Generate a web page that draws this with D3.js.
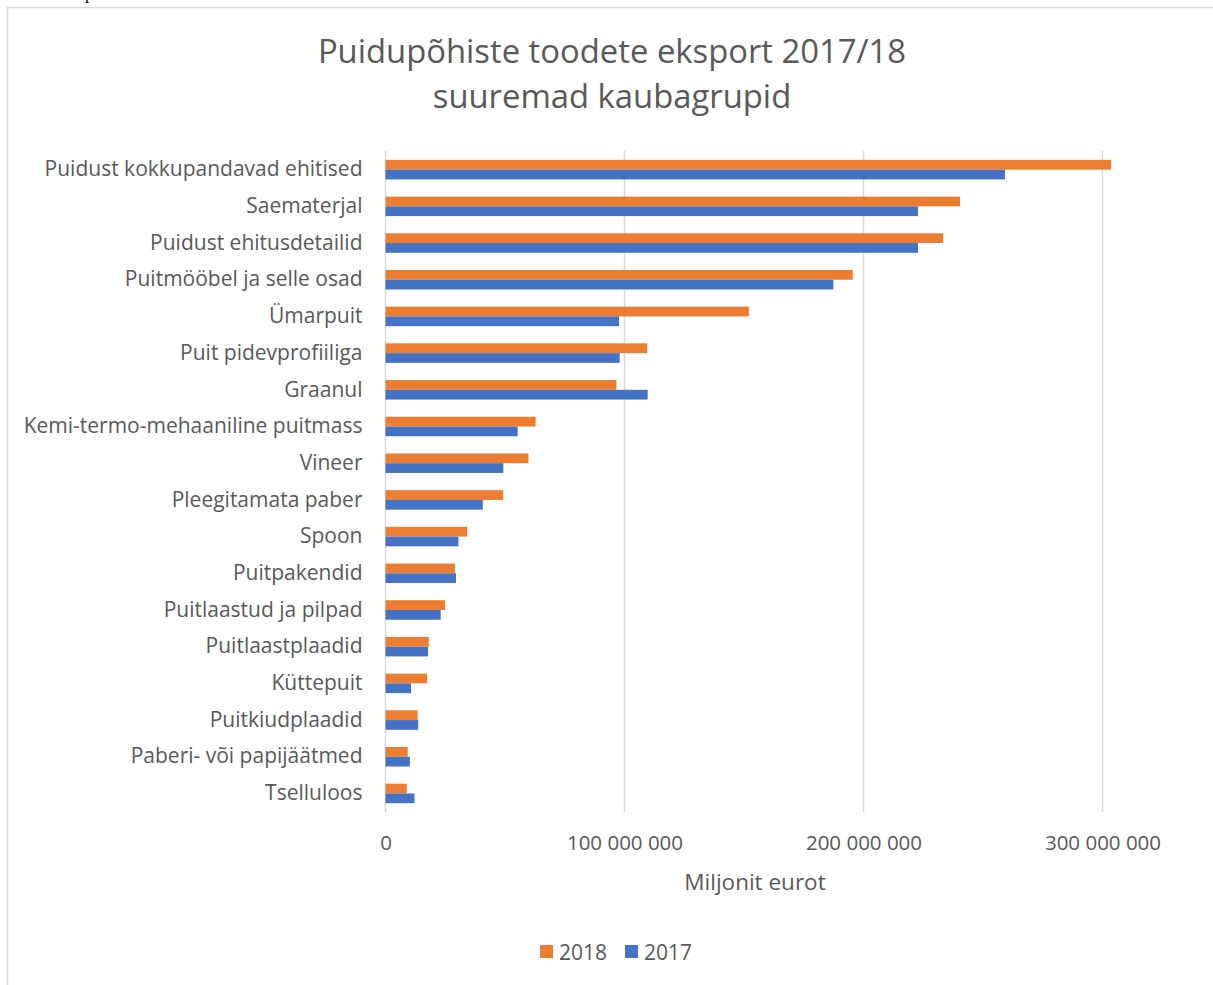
<!DOCTYPE html>
<html>
<head>
<meta charset="utf-8">
<script src="https://cdn.jsdelivr.net/npm/d3@7"></script>
<style>
  html, body { margin: 0; padding: 0; background: #fff; }
  svg { display: block; font-family: "Open Sans", Lato, sans-serif; }
</style>
</head>
<body>
<div id="container"></div>
<script>
const width = 1213, height = 985;

// --- Data (euros) ---
const categories = [
  "Puidust kokkupandavad ehitised",
  "Saematerjal",
  "Puidust ehitusdetailid",
  "Puitmööbel ja selle osad",
  "Ümarpuit",
  "Puit pidevprofiiliga",
  "Graanul",
  "Kemi-termo-mehaaniline puitmass",
  "Vineer",
  "Pleegitamata paber",
  "Spoon",
  "Puitpakendid",
  "Puitlaastud ja pilpad",
  "Puitlaastplaadid",
  "Küttepuit",
  "Puitkiudplaadid",
  "Paberi- või papijäätmed",
  "Tselluloos"
];
const values2018 = [
  303.6e6, 240.4e6, 233.3e6, 195.5e6, 152.0e6, 109.5e6, 96.6e6, 62.8e6, 59.8e6,
  49.2e6, 34.2e6, 29.1e6, 24.9e6, 18.1e6, 17.4e6, 13.4e6, 9.3e6, 8.9e6
];
const values2017 = [
  259.2e6, 222.8e6, 222.8e6, 187.4e6, 97.7e6, 98.0e6, 109.7e6, 55.3e6, 49.3e6,
  40.7e6, 30.5e6, 29.5e6, 23.1e6, 17.8e6, 10.7e6, 13.7e6, 10.2e6, 12.1e6
];
const seriesNames = ["2018", "2017"];
const xTicks = [0, 100e6, 200e6, 300e6];

const colors = { "2018": "#ED7D31", "2017": "#4472C4" };
const ink = "#595959";
const gridCol = "#D9D9D9";

const rows = categories.map((c, i) => ({ cat: c, "2018": values2018[i], "2017": values2017[i] }));

const svg = d3.select("#container").append("svg")
  .attr("width", width).attr("height", height);

// chart border (cropped on right/bottom like the screenshot)
svg.append("rect")
  .attr("x", 7.5).attr("y", 7.5)
  .attr("width", width + 20).attr("height", height + 20)
  .attr("fill", "none").attr("stroke", gridCol).attr("stroke-width", 1.5);

// stray descender of text above the chart
svg.append("text")
  .attr("x", 85).attr("y", -1)
  .attr("font-family", "Liberation Serif").attr("font-size", 17).attr("fill", "#000")
  .text("p");

// --- Scales ---
const x = d3.scaleLinear().domain([0, 300e6]).range([385.5, 1102.5]);
const y = d3.scaleBand().domain(categories).range([151.3, 811.8]).padding(0);
const groupH = 19.5;
const ySub = d3.scaleBand().domain(seriesNames).range([0, groupH]);
const offset = (y.bandwidth() - groupH) / 2;

// gridlines
svg.append("g").selectAll("line").data(xTicks).join("line")
  .attr("x1", d => x(d)).attr("x2", d => x(d))
  .attr("y1", 151).attr("y2", 812)
  .attr("stroke", gridCol).attr("stroke-width", 1.5);

// bars
const groups = svg.append("g").selectAll("g").data(rows).join("g")
  .attr("transform", d => `translate(0,${y(d.cat) + offset})`);
groups.selectAll("rect").data(d => seriesNames.map(s => ({ s, v: d[s] }))).join("rect")
  .attr("x", x(0))
  .attr("y", d => ySub(d.s))
  .attr("width", d => x(d.v) - x(0))
  .attr("height", ySub.bandwidth())
  .attr("fill", d => colors[d.s]);

// category axis
const yAx = svg.append("g").attr("transform", `translate(${x(0)},0)`)
  .call(d3.axisLeft(y).tickSize(0).tickPadding(23));
yAx.select(".domain").remove();
yAx.selectAll("text")
  .attr("fill", ink).style("font-size", "21px").style("font-family", "Open Sans");

// value axis
const fmt = v => d3.format(",")(v).replace(/,/g, " ");
const xAx = svg.append("g").attr("transform", "translate(0,812)")
  .call(d3.axisBottom(x).tickValues(xTicks).tickFormat(fmt).tickSize(0).tickPadding(23));
xAx.select(".domain").remove();
xAx.selectAll("text")
  .attr("fill", ink).style("font-size", "20.5px").style("font-family", "Open Sans");

// axis title
svg.append("text")
  .attr("x", 755).attr("y", 890)
  .attr("text-anchor", "middle").attr("fill", ink)
  .style("font-size", "22.5px")
  .text("Miljonit eurot");

// chart title
const title = svg.append("text")
  .attr("text-anchor", "middle").attr("fill", ink)
  .style("font-size", "32.8px");
title.append("tspan").attr("x", 612).attr("y", 63).text("Puidupõhiste toodete eksport 2017/18");
title.append("tspan").attr("x", 612).attr("y", 108).text("suuremad kaubagrupid");

// legend
const legend = svg.append("g").attr("transform", "translate(540,945)");
const legItems = legend.selectAll("g").data(seriesNames).join("g")
  .attr("transform", (d, i) => `translate(${i * 85},0)`);
legItems.append("rect")
  .attr("width", 13).attr("height", 13)
  .attr("fill", d => colors[d]);
legItems.append("text")
  .attr("x", 19).attr("y", 14.5)
  .attr("fill", ink).style("font-size", "21px")
  .text(d => d);
</script>
</body>
</html>
